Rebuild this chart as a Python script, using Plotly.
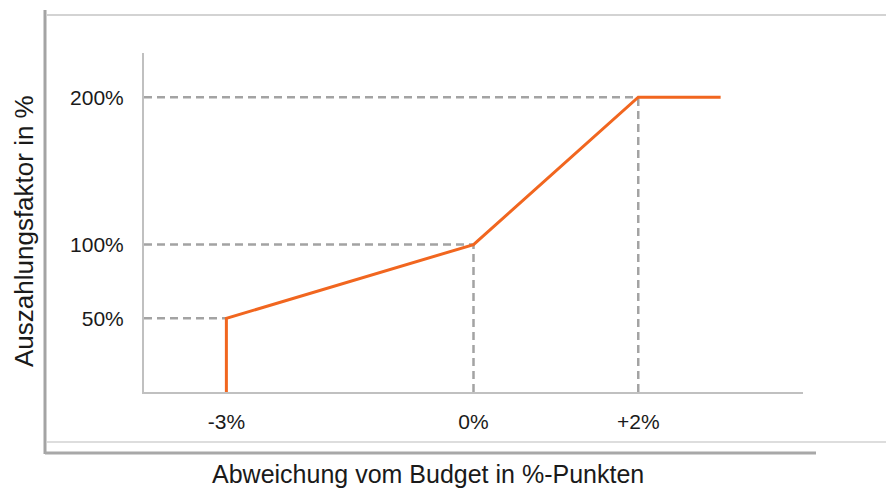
import plotly.graph_objects as go

# data
curve_x = [-3, -3, 0, 2, 3]
curve_y = [0, 50, 100, 200, 200]
x_ticks = [-3, 0, 2]
x_tick_labels = ["-3%", "0%", "+2%"]
y_ticks = [50, 100, 200]
y_tick_labels = ["50%", "100%", "200%"]
x_range = [-4, 4]
y_range = [0, 230]

W, H = 886, 489
L, R, T, B = 144, 83, 53, 97
pw, ph = W - L - R, H - T - B

def px(x):
    return (x - L) / pw

def py(y):
    return (H - B - y) / ph

fig = go.Figure()

grey = "#a3a3a3"
# dashed guides from the curve's points to the axes
for xv, yv in zip(curve_x[1:4], curve_y[1:4]):
    fig.add_trace(go.Scatter(x=[x_range[0], xv], y=[yv, yv], mode="lines",
                             line=dict(color=grey, width=2.5, dash="8px,5px"),
                             hoverinfo="skip", showlegend=False))
    if xv != curve_x[0]:
        fig.add_trace(go.Scatter(x=[xv, xv], y=[y_range[0], yv], mode="lines",
                                 line=dict(color=grey, width=2.5, dash="8px,5px"),
                                 hoverinfo="skip", showlegend=False))

fig.add_trace(go.Scatter(x=curve_x, y=curve_y, mode="lines",
                         line=dict(color="#f1661f", width=3),
                         showlegend=False, cliponaxis=False))

shapes = [
    dict(type="line", xref="paper", yref="paper", x0=px(47), x1=px(886), y0=py(15), y1=py(15),
         line=dict(color="#c4c4c4", width=1.5)),
    dict(type="line", xref="paper", yref="paper", x0=px(45), x1=px(45), y0=py(10), y1=py(454),
         line=dict(color="#a4a4a4", width=3)),
    dict(type="line", xref="paper", yref="paper", x0=px(47), x1=px(886), y0=py(442), y1=py(442),
         line=dict(color="#d2d2d2", width=1.5)),
    dict(type="line", xref="paper", yref="paper", x0=px(45), x1=px(816), y0=py(453), y1=py(453),
         line=dict(color="#a8a8a8", width=3)),
]

fig.update_layout(
    width=W, height=H,
    margin=dict(l=L, r=R, t=T, b=B),
    plot_bgcolor="white", paper_bgcolor="white",
    font=dict(family="Liberation Sans, Arial, sans-serif", color="#1a1a1a", size=21),
    shapes=shapes,
    annotations=[
        dict(text="Auszahlungsfaktor in %", xref="paper", yref="paper",
             x=px(24), y=py(231), textangle=-90, showarrow=False,
             font=dict(size=26), xanchor="center", yanchor="middle"),
        dict(text="Abweichung vom Budget in %-Punkten", xref="paper", yref="paper",
             x=px(428), y=py(474), showarrow=False,
             font=dict(size=25), xanchor="center", yanchor="middle"),
    ],
)
fig.update_xaxes(range=x_range, tickvals=x_ticks, ticktext=x_tick_labels,
                 showgrid=False, zeroline=False, showline=True, linecolor="#c0c0c0",
                 linewidth=2, ticks="", ticklabelstandoff=10)
fig.update_yaxes(range=y_range, tickvals=y_ticks, ticktext=y_tick_labels,
                 showgrid=False, zeroline=False, showline=True, linecolor="#c0c0c0",
                 linewidth=2, ticks="", ticklabelstandoff=14)

fig.write_html("out.html", config={"displayModeBar": False},
               post_script="document.body.style.margin='0';document.body.style.overflow='hidden';")
